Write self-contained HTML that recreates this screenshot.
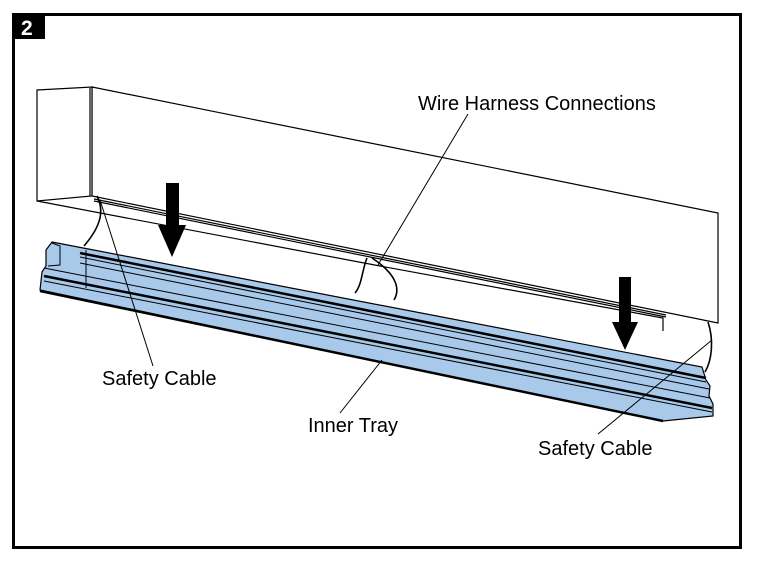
<!DOCTYPE html>
<html><head><meta charset="utf-8"><style>
html,body{margin:0;padding:0;background:#fff;}
svg{display:block;}
text{font-family:"Liberation Sans",Arial,sans-serif;font-size:20px;fill:#000;}
</style></head><body>
<svg width="758" height="567" viewBox="0 0 758 567" xmlns="http://www.w3.org/2000/svg">
<rect x="13.5" y="14.5" width="727" height="533" fill="#fff" stroke="#000" stroke-width="3"/>
<rect x="12" y="13" width="33" height="26" fill="#000"/>
<text x="21" y="35" style="fill:#fff;font-weight:bold;font-size:21px">2</text>
<g fill="#fff" stroke="#000" stroke-width="1.2">
<polygon points="92,87 718,213 718,323 92,196"/>
<polygon points="37,90 92,87 92,196 37,201"/>
<line x1="90" y1="88" x2="90" y2="196"/>
<polyline points="37,201 380,266 663,318 663,331" fill="none"/>
<line x1="94" y1="199" x2="666" y2="315"/>
<line x1="94" y1="201" x2="666" y2="317"/>
</g>
<polygon points="52,242 702,367 706,380 710,386 709,396 713,404 713,416 663,421 40,290 42,272 46,266 46,250" fill="#a8c9e9" stroke="#000" stroke-width="1.2"/>
<g stroke="#000" fill="none">
<line x1="80" y1="253" x2="706" y2="378" stroke-width="2.5"/>
<line x1="80" y1="257" x2="706" y2="382" stroke-width="1"/>
<line x1="80" y1="263" x2="709" y2="389" stroke-width="1"/>
<line x1="44" y1="268" x2="710" y2="398" stroke-width="1"/>
<line x1="44" y1="276" x2="712" y2="408" stroke-width="2.5"/>
<line x1="44" y1="281" x2="712" y2="412" stroke-width="1"/>
<line x1="40" y1="291" x2="663" y2="421" stroke-width="2.5"/>
<polyline points="52,243 60,246 60,265 48,266" stroke-width="1"/>
<line x1="86" y1="250" x2="86" y2="288" stroke-width="1"/>
</g>
<g stroke="#000" fill="none" stroke-width="1.6">
<path d="M97,196 C104,210 102,225 84,246"/>
<path d="M367,258 C362,270 362,285 355,293"/>
<path d="M372,258 C398,275 400,290 394,300"/>
<path d="M708,322 C714,340 712,360 705,372"/>
</g>
<polygon points="166,183 179,183 179,225 186,225 172,257 158,225 166,225" fill="#000"/>
<polygon points="619,277 631,277 631,322 638,322 625,350 612,322 619,322" fill="#000"/>
<g stroke="#000" stroke-width="1">
<line x1="468" y1="114" x2="378" y2="265"/>
<line x1="100" y1="200" x2="153" y2="366"/>
<line x1="382" y1="360" x2="340" y2="413"/>
<line x1="712" y1="340" x2="598" y2="434"/>
</g>
<text x="418" y="110">Wire Harness Connections</text>
<text x="102" y="385">Safety Cable</text>
<text x="308" y="432">Inner Tray</text>
<text x="538" y="455">Safety Cable</text>
</svg>
</body></html>
